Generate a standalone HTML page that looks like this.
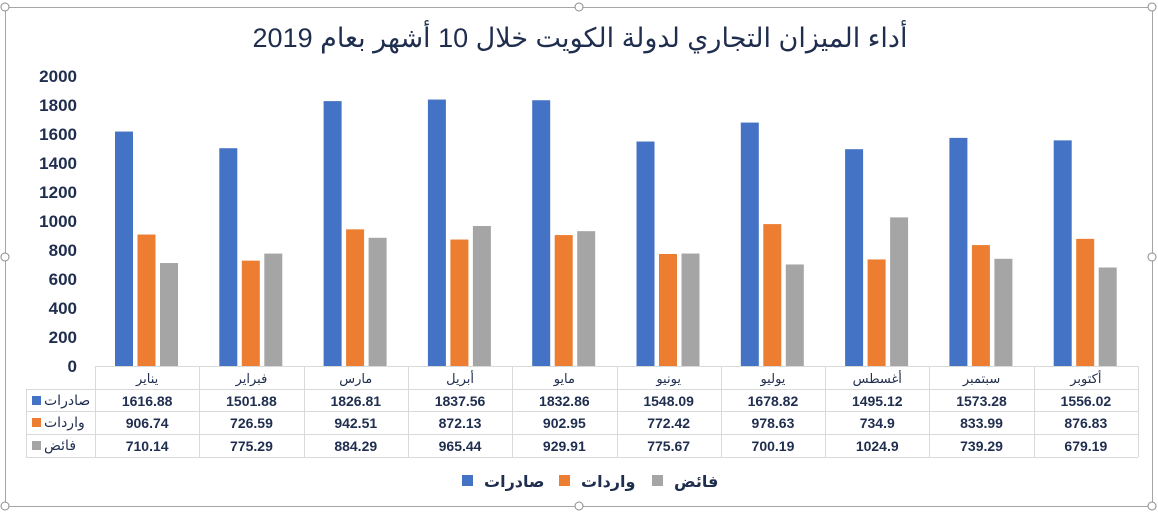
<!DOCTYPE html>
<html><head><meta charset="utf-8"><style>
html,body{margin:0;padding:0;background:#fff;width:1158px;height:514px;overflow:hidden}
svg text{font-family:"Liberation Sans","DejaVu Sans",sans-serif}
</style></head><body>
<svg id="s" width="1158" height="514" xmlns="http://www.w3.org/2000/svg">
<rect x="5.5" y="7.5" width="1147" height="499" fill="#fff" stroke="#a6a6a6" stroke-width="1"/>
<text x="580" y="47" text-anchor="middle" font-size="27" fill="#1f2d4e">أداء الميزان التجاري لدولة الكويت خلال 10 أشهر بعام 2019</text>
<g id="g"></g>
</svg>
<script>
var g=document.getElementById('g'),h='';
var m=['يناير','فبراير','مارس','أبريل','مايو','يونيو','يوليو','أغسطس','سبتمبر','أكتوبر'];
var e=[1616.88,1501.88,1826.81,1837.56,1832.86,1548.09,1678.82,1495.12,1573.28,1556.02];
var im=[906.74,726.59,942.51,872.13,902.95,772.42,978.63,734.9,833.99,876.83];
var f=[710.14,775.29,884.29,965.44,929.91,775.67,700.19,1024.9,739.29,679.19];
var fe=["1616.88","1501.88","1826.81","1837.56","1832.86","1548.09","1678.82","1495.12","1573.28","1556.02"];
var fi=["906.74","726.59","942.51","872.13","902.95","772.42","978.63","734.9","833.99","876.83"];
var ff=["710.14","775.29","884.29","965.44","929.91","775.67","700.19","1024.9","739.29","679.19"];
var Z=366,k=0.145,X0=95,W=104.3;
for(var i=0;i<=10;i++){var v=i*200;h+='<text x="77" y="'+(Z-v*k+6)+'" text-anchor="end" font-size="17" font-weight="bold" fill="#1f2d4e">'+v+'</text>';}
var cols=['#4472c4','#ed7d31','#a5a5a5'];
for(var j=0;j<10;j++){var x=X0+j*W;[e,im,f].forEach(function(a,s){var hh=a[j]*k;h+='<rect x="'+(x+20+s*22.5)+'" y="'+(Z-hh)+'" width="18" height="'+hh+'" fill="'+cols[s]+'"/>';});}
// table
var L='stroke="#d9d9d9" stroke-width="1"';
var rows=[366,389,411,434,457];
h+='<line x1="'+X0+'" y1="366.5" x2="1138" y2="366.5" '+L+'/>';
for(var r=1;r<5;r++)h+='<line x1="26" y1="'+(rows[r]+.5)+'" x2="1138" y2="'+(rows[r]+.5)+'" '+L+'/>';
h+='<line x1="26.5" y1="389" x2="26.5" y2="457" '+L+'/>';
for(var j=0;j<=10;j++){var x=Math.round(X0+j*W)+.5;h+='<line x1="'+x+'" y1="366" x2="'+x+'" y2="457" '+L+'/>';}
var names=['صادرات','واردات','فائض'];
for(var s=0;s<3;s++){var y=rows[s+1];h+='<rect x="32" y="'+(y+7)+'" width="9" height="9" fill="'+cols[s]+'"/><text x="44" y="'+(y+16)+'" font-size="14" fill="#1f2d4e" font-family="Liberation Sans,DejaVu Sans,sans-serif">'+names[s]+'</text>';}
for(var j=0;j<10;j++){var cx=X0+j*W+W/2;
h+='<text x="'+cx+'" y="383" text-anchor="middle" font-size="13" fill="#1f2d4e">'+m[j]+'</text>';
[fe,fi,ff].forEach(function(a,s){h+='<text x="'+cx+'" y="'+(rows[s+1]+17)+'" text-anchor="middle" font-size="14" font-weight="bold" fill="#1f2d4e">'+a[j]+'</text>';});}
// legend
var lg=[[462,484,'صادرات'],[559,581,'واردات'],[652,674,'فائض']];
lg.forEach(function(l,s){h+='<rect x="'+l[0]+'" y="475" width="11" height="11" fill="'+cols[s]+'"/><text x="'+l[1]+'" y="487" font-size="16" font-weight="bold" fill="#1f2d4e">'+l[2]+'</text>';});
// handles
[[5,7],[579,7],[1152,7],[5,257],[1152,257],[5,506],[579,506],[1152,506]].forEach(function(p){h+='<circle cx="'+p[0]+'" cy="'+p[1]+'" r="4" fill="#fff" stroke="#8c8c8c" stroke-width="1"/>';});
g.innerHTML=h;
</script>
</body></html>
